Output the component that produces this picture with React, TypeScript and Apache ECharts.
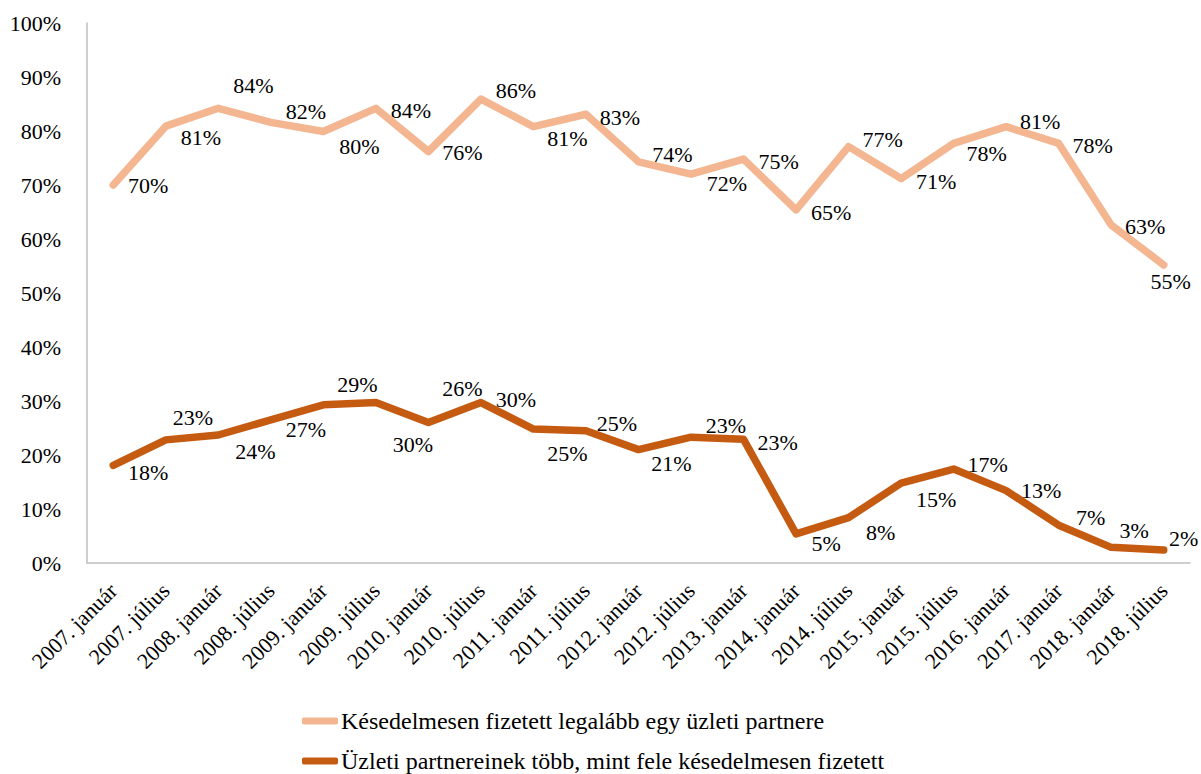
import React, { useEffect, useRef } from "react";
import * as echarts from "echarts";

const categories = [
  "2007. január", "2007. július", "2008. január", "2008. július", "2009. január",
  "2009. július", "2010. január", "2010. július", "2011. január", "2011. július",
  "2012. január", "2012. július", "2013. január", "2014. január", "2014. július",
  "2015. január", "2015. július", "2016. január", "2017. január", "2018. január",
  "2018. július",
];

const seriesNames = [
  "Késedelmesen fizetett legalább egy üzleti partnere",
  "Üzleti partnereinek több, mint fele késedelmesen fizetett",
];

const atLeastOne = [70.0, 80.9, 84.2, 81.6, 79.9, 84.2, 76.2, 85.9, 80.8, 83.1, 74.3, 72.0, 74.8, 65.4, 77.1, 71.2, 77.7, 80.8, 77.7, 62.6, 55.2];
const moreThanHalf = [18.1, 22.8, 23.7, 26.5, 29.3, 29.7, 26.0, 29.7, 24.8, 24.5, 21.0, 23.3, 22.9, 5.4, 8.4, 14.8, 17.4, 13.4, 7.0, 2.9, 2.4];

// label placement (style only): offset of each label's centre from its point
const labelOffsets1 = [[35, 0], [35, 11], [35, -23], [35, -11], [36, 15], [35, 2], [34, 1], [35, -9], [34, 12], [34, 3], [34, -7], [36, 9], [35, 2], [35, 3], [34, -7], [35, 3], [33, 10], [34, -5], [34, 2], [34, 2], [7, 17]];
const labelOffsets2 = [[35, 7], [27, -22], [37, 16], [35, 10], [34, -20], [37, 42], [34, -34], [35, -3], [34, 24], [31, -7], [33, 14], [35, -12], [34, 3], [30, 10], [32, 15], [35, 16], [34, -5], [35, 0], [32, -8], [23, -17], [20, -12]];

const FONT = "Liberation Serif";
const COLORS = ["#F4B690", "#C55A11"];

export default function App() {
  const ref = useRef<HTMLDivElement>(null);
  useEffect(() => {
    document.body.style.margin = "0";
    const chart = echarts.init(ref.current!, null, { renderer: "svg" });
    const mk = (vals: number[], offs: number[][], i: number) => ({
      name: seriesNames[i],
      type: "line",
      data: vals.map((v, k) => ({ value: v, label: { offset: offs[k] } })),
      symbol: "circle",
      symbolSize: 2,
      showSymbol: true,
      itemStyle: { color: COLORS[i] },
      lineStyle: { width: 7.5, color: COLORS[i], cap: "round", join: "round" },
      label: {
        show: true,
        position: "inside",
        align: "center",
        verticalAlign: "middle",
        color: "#000",
        fontFamily: FONT,
        fontSize: 22,
        formatter: (p: any) => Math.round(p.value) + "%",
      },
      emphasis: { disabled: true },
    });
    const legendBase = {
      orient: "vertical",
      left: 297,
      itemWidth: 36,
      itemHeight: 7,
      icon: "roundRect",
      selectedMode: false,
      textStyle: { fontFamily: FONT, fontSize: 24, color: "#000", padding: [0, 0, 0, -2] },
    };
    chart.setOption({
      animation: false,
      textStyle: { fontFamily: FONT },
      grid: { left: 87, right: 11, top: 23, bottom: 211, containLabel: false },
      legend: [
        { ...legendBase, top: 704, data: [seriesNames[0]] },
        { ...legendBase, top: 744, data: [seriesNames[1]] },
      ],
      xAxis: {
        type: "category",
        data: categories,
        boundaryGap: true,
        axisLine: { lineStyle: { color: "#BFBFBF", width: 1.5 } },
        axisTick: { show: false },
        axisLabel: {
          interval: 0,
          rotate: 45,
          margin: 24,
          color: "#000",
          fontFamily: FONT,
          fontSize: 22,
        },
      },
      yAxis: {
        type: "value",
        min: 0,
        max: 100,
        interval: 10,
        axisLine: { show: true, lineStyle: { color: "#BFBFBF", width: 1.5 } },
        axisTick: { show: false },
        splitLine: { show: false },
        axisLabel: {
          formatter: "{value}%",
          margin: 26,
          color: "#000",
          fontFamily: FONT,
          fontSize: 22,
        },
      },
      series: [mk(atLeastOne, labelOffsets1, 0), mk(moreThanHalf, labelOffsets2, 1)],
    });
    return () => chart.dispose();
  }, []);
  return <div ref={ref} style={{ width: 1201, height: 774 }} />;
}
